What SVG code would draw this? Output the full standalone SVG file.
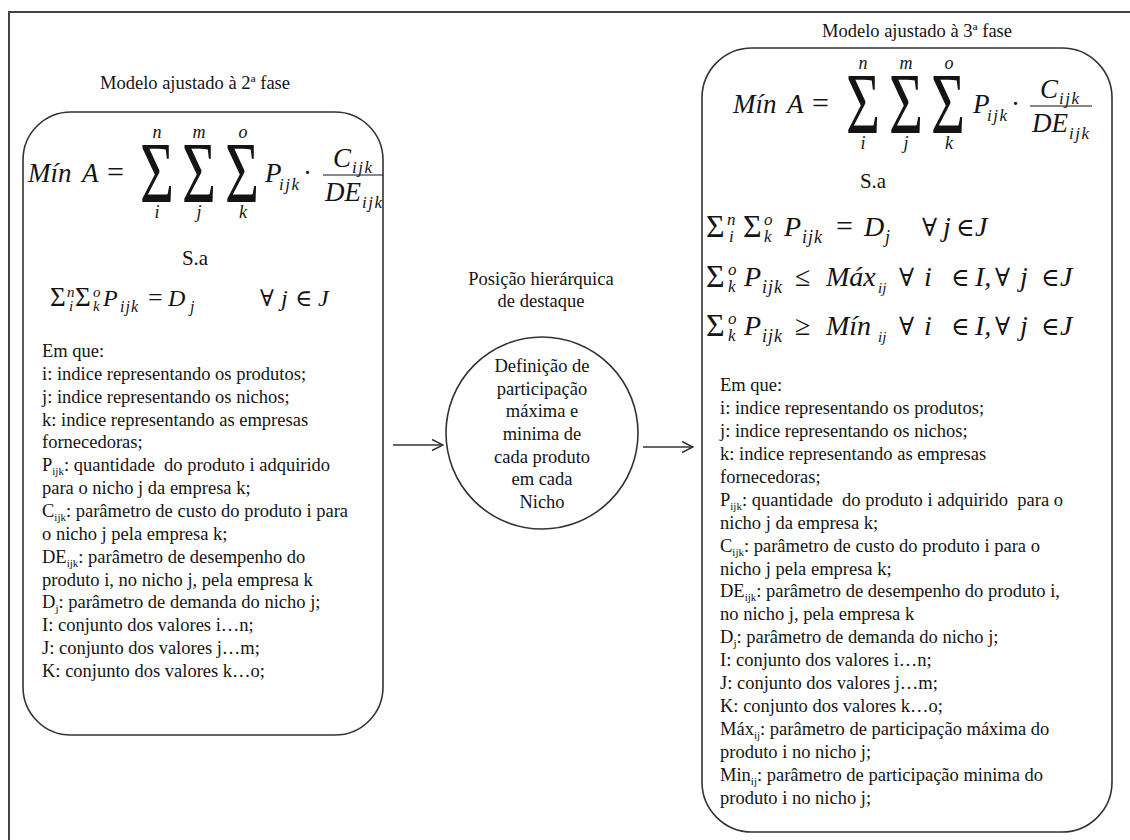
<svg xmlns="http://www.w3.org/2000/svg" width="1130" height="840" viewBox="0 0 1130 840">
<style>
.t{font-family:"Liberation Serif","DejaVu Serif",serif;font-size:18.5px;fill:#141414}
.c{text-anchor:middle}
.mi{font-family:"Liberation Serif","DejaVu Serif",serif;font-style:italic;fill:#141414}
.mr{font-family:"Liberation Serif","DejaVu Serif",serif;fill:#141414}
.sub{font-size:11px}
.box{fill:#fff;stroke:#333;stroke-width:1.6}
.ln{fill:none;stroke:#333;stroke-width:1.5}
.frac{stroke:#141414;stroke-width:1.2}
</style>
<defs>
<marker id="ah" markerUnits="userSpaceOnUse" markerWidth="14" markerHeight="14" viewBox="0 0 14 14" refX="13" refY="7" orient="auto">
<path d="M2,1.5 L13,7 L2,12.5" fill="none" stroke="#333" stroke-width="1.5"/>
</marker>
</defs>
<rect width="1130" height="840" fill="#fff"/>
<path d="M9,840 V12 H1130" fill="none" stroke="#444" stroke-width="2"/>

<!-- Left node: model phase 2 -->
<g id="model-fase2">
<text class="t c" x="195" y="89">Modelo ajustado à 2ª fase</text>
<rect class="box" x="23" y="112" width="360" height="623" rx="48" ry="48"/>
<g id="objetivo-fase2">
<text class="mi" font-size="27" x="28" y="182">Mín</text>
<text class="mi" font-size="27" x="82" y="182">A</text>
<text class="mr" font-size="30" x="107" y="182">=</text>
<text class="mr c" font-size="86" transform="translate(157,202) scale(0.68,1)">Σ</text>
<text class="mr c" font-size="86" transform="translate(199,202) scale(0.68,1)">Σ</text>
<text class="mr c" font-size="86" transform="translate(242,202) scale(0.68,1)">Σ</text>
<text class="mi c" font-size="18" x="157" y="138">n</text>
<text class="mi c" font-size="18" x="199" y="138">m</text>
<text class="mi c" font-size="18" x="243" y="138">o</text>
<text class="mi c" font-size="18" x="157" y="218">i</text>
<text class="mi c" font-size="18" x="199" y="218">j</text>
<text class="mi c" font-size="18" x="243" y="218">k</text>
<text class="mi" font-size="27" x="265" y="182">P</text>
<text class="mi" font-size="17" letter-spacing="1.5" x="279" y="190">ijk</text>
<text class="mr" font-size="27" x="303" y="182">·</text>
<text class="mi" font-size="27" x="333" y="167">C</text>
<text class="mi" font-size="17" letter-spacing="1.5" x="352" y="173">ijk</text>
<line class="frac" x1="323" y1="175" x2="383" y2="175"/>
<text class="mi" font-size="27" x="325" y="201">DE</text>
<text class="mi" font-size="17" letter-spacing="1.5" x="362" y="208">ijk</text>
</g>
<text class="mr c" font-size="21" x="195" y="265">S.a</text>
<g id="restricao-fase2">
<text class="mr" font-size="27" x="50" y="306">Σ</text>
<text class="mi" font-size="15" x="67" y="297">n</text>
<text class="mi" font-size="15" x="69" y="311">i</text>
<text class="mr" font-size="27" x="75" y="306">Σ</text>
<text class="mi" font-size="15" x="93" y="297">o</text>
<text class="mi" font-size="15" x="93" y="311">k</text>
<text class="mi" font-size="24" x="103" y="306">P</text>
<text class="mi" font-size="16" letter-spacing="1" x="120" y="312">ijk</text>
<text class="mr" font-size="26" x="148" y="306">=</text>
<text class="mi" font-size="24" x="168" y="306">D</text>
<text class="mi" font-size="16" x="190" y="312">j</text>
<text class="mr" font-size="23" x="260" y="306">∀</text>
<text class="mi" font-size="24" x="281" y="306">j</text>
<text class="mr" font-size="23" x="295" y="306">∈</text>
<text class="mi" font-size="24" x="318" y="306">J</text>
</g>
<g id="legenda-fase2">
<text class="t" x="42" y="357">Em que:</text>
<text class="t" x="42" y="380">i: indice representando os produtos;</text>
<text class="t" x="42" y="403">j: indice representando os nichos;</text>
<text class="t" x="42" y="426">k: indice representando as empresas</text>
<text class="t" x="42" y="448">fornecedoras;</text>
<text class="t" x="42" y="471" xml:space="preserve">P<tspan class="sub" dy="4">ijk</tspan><tspan dy="-4">: quantidade  do produto i adquirido</tspan></text>
<text class="t" x="42" y="494">para o nicho j da empresa k;</text>
<text class="t" x="42" y="517">C<tspan class="sub" dy="4">ijk</tspan><tspan dy="-4">: parâmetro de custo do produto i para</tspan></text>
<text class="t" x="42" y="540">o nicho j pela empresa k;</text>
<text class="t" x="42" y="563">DE<tspan class="sub" dy="4">ijk</tspan><tspan dy="-4">: parâmetro de desempenho do</tspan></text>
<text class="t" x="42" y="586">produto i, no nicho j, pela empresa k</text>
<text class="t" x="42" y="608">D<tspan class="sub" dy="4">j</tspan><tspan dy="-4">: parâmetro de demanda do nicho j;</tspan></text>
<text class="t" x="42" y="631">I: conjunto dos valores i…n;</text>
<text class="t" x="42" y="654">J: conjunto dos valores j…m;</text>
<text class="t" x="42" y="677">K: conjunto dos valores k…o;</text>
</g>
</g>

<!-- Center node -->
<g id="definicao-participacao">
<text class="t c" x="541" y="285">Posição hierárquica</text>
<text class="t c" x="541" y="307">de destaque</text>
<circle cx="542" cy="433" r="96" fill="#fff" stroke="#333" stroke-width="1.6"/>
<text class="t c" x="542" y="372">Definição de</text>
<text class="t c" x="542" y="395">participação</text>
<text class="t c" x="542" y="417">máxima e</text>
<text class="t c" x="542" y="440">minima de</text>
<text class="t c" x="542" y="463">cada produto</text>
<text class="t c" x="542" y="485">em cada</text>
<text class="t c" x="542" y="508">Nicho</text>
</g>

<!-- Right node: model phase 3 -->
<g id="model-fase3">
<text class="t c" x="917" y="37">Modelo ajustado à 3ª fase</text>
<rect class="box" x="702" y="48" width="410" height="784" rx="50" ry="50"/>
<g id="objetivo-fase3" transform="translate(705,-69)">
<text class="mi" font-size="27" x="28" y="182">Mín</text>
<text class="mi" font-size="27" x="82" y="182">A</text>
<text class="mr" font-size="30" x="107" y="182">=</text>
<text class="mr c" font-size="86" transform="translate(158,202) scale(0.68,1)">Σ</text>
<text class="mr c" font-size="86" transform="translate(201,202) scale(0.68,1)">Σ</text>
<text class="mr c" font-size="86" transform="translate(243,202) scale(0.68,1)">Σ</text>
<text class="mi c" font-size="18" x="158" y="138">n</text>
<text class="mi c" font-size="18" x="201" y="138">m</text>
<text class="mi c" font-size="18" x="244" y="138">o</text>
<text class="mi c" font-size="18" x="158" y="218">i</text>
<text class="mi c" font-size="18" x="201" y="218">j</text>
<text class="mi c" font-size="18" x="244" y="218">k</text>
<text class="mi" font-size="27" x="268" y="182">P</text>
<text class="mi" font-size="17" letter-spacing="1.5" x="282" y="190">ijk</text>
<text class="mr" font-size="27" x="306" y="182">·</text>
<text class="mi" font-size="27" x="335" y="167">C</text>
<text class="mi" font-size="17" letter-spacing="1.5" x="354" y="173">ijk</text>
<line class="frac" x1="325" y1="175" x2="387" y2="175"/>
<text class="mi" font-size="27" x="327" y="201">DE</text>
<text class="mi" font-size="17" letter-spacing="1.5" x="364" y="208">ijk</text>
</g>
<text class="mr c" font-size="21" x="873" y="188">S.a</text>
<g id="restricao1-fase3">
<text class="mr" font-size="32" x="706" y="237">Σ</text>
<text class="mi" font-size="17" x="727" y="225">n</text>
<text class="mi" font-size="17" x="729" y="242">i</text>
<text class="mr" font-size="32" x="743" y="237">Σ</text>
<text class="mi" font-size="17" x="764" y="225">o</text>
<text class="mi" font-size="17" x="764" y="242">k</text>
<text class="mi" font-size="28" x="784" y="236">P</text>
<text class="mi" font-size="18" letter-spacing="1" x="802" y="243">ijk</text>
<text class="mr" font-size="30" x="836" y="236">=</text>
<text class="mi" font-size="28" x="864" y="236">D</text>
<text class="mi" font-size="18" x="885" y="243">j</text>
<text class="mr" font-size="25" x="922" y="236">∀</text>
<text class="mi" font-size="28" x="943" y="236">j</text>
<text class="mr" font-size="25" x="956" y="236">∈</text>
<text class="mi" font-size="28" x="975" y="236">J</text>
</g>
<g id="restricao2-fase3">
<text class="mr" font-size="32" x="706" y="287">Σ</text>
<text class="mi" font-size="17" x="728" y="275">o</text>
<text class="mi" font-size="17" x="728" y="292">k</text>
<text class="mi" font-size="28" x="744" y="286">P</text>
<text class="mi" font-size="18" letter-spacing="1" x="762" y="293">ijk</text>
<text class="mr" font-size="28" x="795" y="286">≤</text>
<text class="mi" font-size="28" x="826" y="286">Máx</text>
<text class="mi" font-size="15" x="878" y="293">ij</text>
<text class="mr" font-size="25" x="899" y="286">∀</text>
<text class="mi" font-size="28" x="924" y="286">i</text>
<text class="mr" font-size="25" x="951" y="286">∈</text>
<text class="mi" font-size="28" x="975" y="286">I,</text>
<text class="mr" font-size="25" x="995" y="286">∀</text>
<text class="mi" font-size="28" x="1020" y="286">j</text>
<text class="mr" font-size="25" x="1041" y="286">∈</text>
<text class="mi" font-size="28" x="1060" y="286">J</text>
</g>
<g id="restricao3-fase3">
<text class="mr" font-size="32" x="706" y="336">Σ</text>
<text class="mi" font-size="17" x="728" y="324">o</text>
<text class="mi" font-size="17" x="728" y="341">k</text>
<text class="mi" font-size="28" x="744" y="335">P</text>
<text class="mi" font-size="18" letter-spacing="1" x="762" y="342">ijk</text>
<text class="mr" font-size="28" x="795" y="335">≥</text>
<text class="mi" font-size="28" x="826" y="335">Mín</text>
<text class="mi" font-size="15" x="878" y="342">ij</text>
<text class="mr" font-size="25" x="899" y="335">∀</text>
<text class="mi" font-size="28" x="924" y="335">i</text>
<text class="mr" font-size="25" x="951" y="335">∈</text>
<text class="mi" font-size="28" x="975" y="335">I,</text>
<text class="mr" font-size="25" x="995" y="335">∀</text>
<text class="mi" font-size="28" x="1020" y="335">j</text>
<text class="mr" font-size="25" x="1041" y="335">∈</text>
<text class="mi" font-size="28" x="1060" y="335">J</text>
</g>
<g id="legenda-fase3">
<text class="t" x="720" y="391">Em que:</text>
<text class="t" x="720" y="414">i: indice representando os produtos;</text>
<text class="t" x="720" y="437">j: indice representando os nichos;</text>
<text class="t" x="720" y="460">k: indice representando as empresas</text>
<text class="t" x="720" y="483">fornecedoras;</text>
<text class="t" x="720" y="506" xml:space="preserve">P<tspan class="sub" dy="4">ijk</tspan><tspan dy="-4">: quantidade  do produto i adquirido  para o</tspan></text>
<text class="t" x="720" y="529">nicho j da empresa k;</text>
<text class="t" x="720" y="552">C<tspan class="sub" dy="4">ijk</tspan><tspan dy="-4">: parâmetro de custo do produto i para o</tspan></text>
<text class="t" x="720" y="575">nicho j pela empresa k;</text>
<text class="t" x="720" y="597">DE<tspan class="sub" dy="4">ijk</tspan><tspan dy="-4">: parâmetro de desempenho do produto i,</tspan></text>
<text class="t" x="720" y="620">no nicho j, pela empresa k</text>
<text class="t" x="720" y="643">D<tspan class="sub" dy="4">j</tspan><tspan dy="-4">: parâmetro de demanda do nicho j;</tspan></text>
<text class="t" x="720" y="666">I: conjunto dos valores i…n;</text>
<text class="t" x="720" y="689">J: conjunto dos valores j…m;</text>
<text class="t" x="720" y="712">K: conjunto dos valores k…o;</text>
<text class="t" x="720" y="735">Máx<tspan class="sub" dy="4">ij</tspan><tspan dy="-4">: parâmetro de participação máxima do</tspan></text>
<text class="t" x="720" y="758">produto i no nicho j;</text>
<text class="t" x="720" y="781">Min<tspan class="sub" dy="4">ij</tspan><tspan dy="-4">: parâmetro de participação minima do</tspan></text>
<text class="t" x="720" y="804">produto i no nicho j;</text>
</g>
</g>

<g id="connectors">
<line class="ln" x1="393" y1="445" x2="443" y2="445" marker-end="url(#ah)"/>
<line class="ln" x1="643" y1="447" x2="693" y2="447" marker-end="url(#ah)"/>
</g>
</svg>
